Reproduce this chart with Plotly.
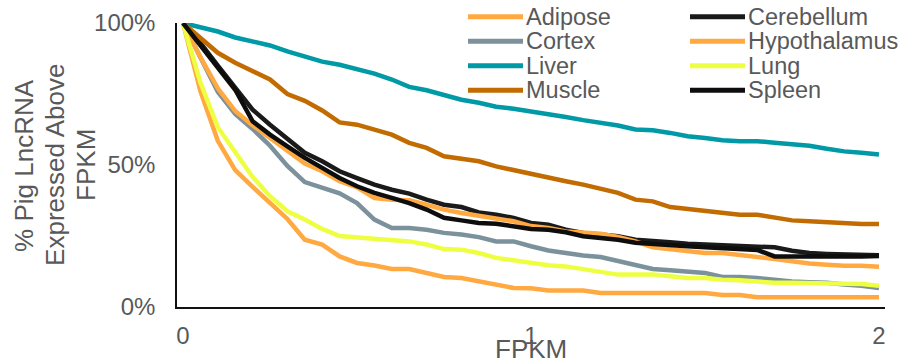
import plotly.graph_objects as go

# ---------------- data ----------------
fpkm = [round(i * 0.05, 2) for i in range(41)]

names = ["Adipose", "Cerebellum", "Cortex", "Hypothalamus",
         "Liver", "Lung", "Muscle", "Spleen"]
colors = ["#FFA940", "#1A1A1A", "#7B929C", "#FFA940",
          "#0099A6", "#EEFF41", "#C26B00", "#0D0D0D"]

adipose = [1.0, 0.76, 0.585, 0.482, 0.423, 0.368, 0.31, 0.237, 0.22, 0.178,
           0.155, 0.146, 0.134, 0.134, 0.122, 0.106, 0.102, 0.09, 0.082, 0.067,
           0.066, 0.058, 0.058, 0.058, 0.049, 0.049, 0.049, 0.049, 0.049, 0.049,
           0.049, 0.042, 0.042, 0.034, 0.034, 0.034, 0.034, 0.034, 0.034, 0.034, 0.034]
cerebellum = [1.0, 0.93, 0.85, 0.77, 0.695, 0.642, 0.59, 0.543, 0.513, 0.478,
              0.454, 0.431, 0.413, 0.399, 0.378, 0.36, 0.352, 0.333, 0.325, 0.314,
              0.296, 0.29, 0.272, 0.261, 0.255, 0.249, 0.237, 0.231, 0.228, 0.223,
              0.22, 0.218, 0.215, 0.212, 0.21, 0.198, 0.19, 0.187, 0.185, 0.183, 0.182]
cortex = [1.0, 0.875, 0.758, 0.68, 0.627, 0.568, 0.497, 0.44, 0.422, 0.4,
          0.366, 0.308, 0.278, 0.278, 0.272, 0.261, 0.255, 0.246, 0.231, 0.231,
          0.214, 0.199, 0.19, 0.181, 0.176, 0.161, 0.149, 0.134, 0.129, 0.125,
          0.12, 0.106, 0.106, 0.102, 0.094, 0.09, 0.087, 0.085, 0.079, 0.075, 0.067]
hypothalamus = [1.0, 0.88, 0.77, 0.69, 0.64, 0.595, 0.55, 0.505, 0.478, 0.443,
                0.421, 0.384, 0.378, 0.376, 0.36, 0.343, 0.331, 0.322, 0.31, 0.302,
                0.285, 0.278, 0.266, 0.261, 0.258, 0.247, 0.231, 0.21, 0.202, 0.196,
                0.19, 0.19, 0.184, 0.178, 0.169, 0.161, 0.153, 0.149, 0.145, 0.145, 0.142]
liver = [1.0, 0.985, 0.97, 0.949, 0.933, 0.921, 0.9, 0.884, 0.864, 0.853,
         0.838, 0.822, 0.801, 0.775, 0.763, 0.746, 0.73, 0.719, 0.705, 0.698,
         0.689, 0.678, 0.669, 0.658, 0.648, 0.639, 0.625, 0.622, 0.613, 0.601,
         0.595, 0.587, 0.584, 0.584, 0.578, 0.572, 0.568, 0.557, 0.548, 0.543, 0.537]
lung = [1.0, 0.79, 0.633, 0.545, 0.458, 0.39, 0.337, 0.308, 0.275, 0.25,
        0.245, 0.243, 0.235, 0.231, 0.22, 0.204, 0.202, 0.19, 0.173, 0.164,
        0.155, 0.147, 0.143, 0.134, 0.125, 0.114, 0.114, 0.114, 0.108, 0.102,
        0.102, 0.096, 0.094, 0.09, 0.085, 0.085, 0.085, 0.082, 0.082, 0.081, 0.075]
muscle = [1.0, 0.947, 0.895, 0.86, 0.83, 0.801, 0.75, 0.726, 0.692, 0.65,
          0.642, 0.625, 0.607, 0.578, 0.56, 0.531, 0.521, 0.513, 0.495, 0.481,
          0.47, 0.454, 0.443, 0.431, 0.416, 0.402, 0.378, 0.372, 0.352, 0.345,
          0.34, 0.333, 0.325, 0.325, 0.314, 0.305, 0.302, 0.298, 0.293, 0.292, 0.292]
spleen = [1.0, 0.92, 0.84, 0.765, 0.654, 0.607, 0.566, 0.525, 0.49, 0.454,
          0.425, 0.402, 0.384, 0.366, 0.343, 0.314, 0.305, 0.296, 0.293, 0.284,
          0.275, 0.272, 0.263, 0.249, 0.243, 0.237, 0.226, 0.223, 0.22, 0.214,
          0.21, 0.207, 0.205, 0.201, 0.178, 0.177, 0.177, 0.178, 0.178, 0.178, 0.18]

series = [adipose, cerebellum, cortex, hypothalamus, liver, lung, muscle, spleen]

x_ticks = [0, 1, 2]
y_ticks = [0, 0.5, 1]
x_title = "FPKM"
y_title_lines = ["% Pig LncRNA", "Expressed Above", "FPKM"]

# ---------------- layout geometry (pixels) ----------------
W, H = 907, 362
L, R, T, B = 177, 22, 23, 55
PW, PH = W - L - R, H - T - B


def px(xp):
    return (xp - L) / PW


def py(yp):
    return (H - B - yp) / PH


TEXT = "#595959"
FONT = "Liberation Sans, Arial, sans-serif"

fig = go.Figure()
for name, col, vals in zip(names, colors, series):
    fig.add_trace(go.Scatter(
        x=fpkm, y=vals, mode="lines", name=name,
        line=dict(color=col, width=4.5), showlegend=False,
    ))

# manual two-column legend (tight row spacing like the original)
shapes = []
annotations = []
col_x = [(468, 523, 525), (690, 745, 747)]
row_y = [16.7, 41.2, 65.7, 90.2]
for k, (name, col) in enumerate(zip(names, colors)):
    r, c = divmod(k, 2)
    x0, x1, xt = col_x[c]
    yy = row_y[r]
    shapes.append(dict(type="line", xref="paper", yref="paper",
                       x0=px(x0), x1=px(x1), y0=py(yy), y1=py(yy),
                       line=dict(color=col, width=5)))
    annotations.append(dict(text=name, xref="paper", yref="paper",
                            x=px(xt), y=py(yy), xanchor="left", yanchor="middle",
                            showarrow=False, borderpad=0,
                            font=dict(size=23.5, color=TEXT, family=FONT)))

for txt, cx in zip(y_title_lines, [24.5, 55.5, 86.5]):
    annotations.append(dict(text=txt, xref="paper", yref="paper",
                            x=px(cx), y=py(165.4), xanchor="center", yanchor="middle",
                            textangle=-90, showarrow=False, borderpad=0,
                            font=dict(size=26, color=TEXT, family=FONT)))
annotations.append(dict(text=x_title, xref="paper", yref="paper",
                        x=px(531), y=py(348.5), xanchor="center", yanchor="middle",
                        showarrow=False, borderpad=0,
                        font=dict(size=26, color=TEXT, family=FONT)))

span = 2.0 * PW / 696.0
x0r = -6.0 * span / PW

fig.update_layout(
    width=W, height=H,
    margin=dict(l=L, r=R, t=T, b=B, pad=0, autoexpand=False),
    paper_bgcolor="white", plot_bgcolor="white",
    font=dict(family=FONT, color=TEXT, size=24),
    shapes=shapes, annotations=annotations,
    showlegend=False,
)
fig.update_xaxes(
    range=[x0r, x0r + span], tickvals=x_ticks, ticktext=[str(v) for v in x_ticks],
    showgrid=False, zeroline=False, showline=True, linecolor="#111111", linewidth=1.5,
    ticks="", ticklabelstandoff=6, tickfont=dict(size=24, color=TEXT),
    automargin=False,
)
fig.update_yaxes(
    range=[0, 1], tickvals=y_ticks, tickformat=".0%",
    showgrid=False, zeroline=False, showline=True, linecolor="#111111", linewidth=1.5,
    ticks="", ticklabelstandoff=15, tickfont=dict(size=24, color=TEXT),
    automargin=False,
)

fig.write_html("out.html")
